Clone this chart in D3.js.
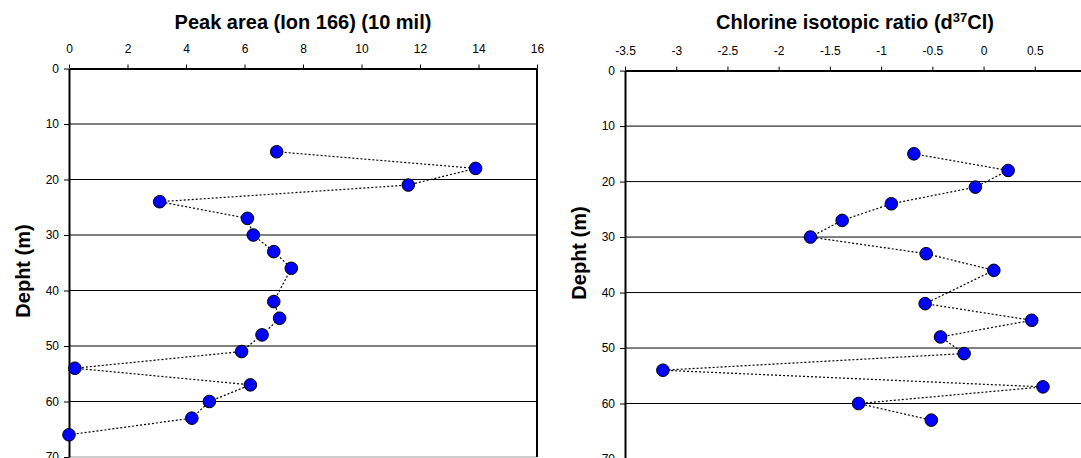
<!DOCTYPE html>
<html>
<head>
<meta charset="utf-8">
<script src="https://cdn.jsdelivr.net/npm/d3@7"></script>
<style>
  body { margin: 0; background: #fff; }
  text { font-family: "Liberation Sans", Arial, sans-serif; }
</style>
</head>
<body>
<div id="chart"></div>
<script>
// Datos
const depthLeft = [15, 18, 21, 24, 27, 30, 33, 36, 42, 45, 48, 51, 54, 57, 60, 63, 66];
const peakArea = [7.1, 13.9, 11.6, 3.1, 6.1, 6.3, 7.0, 7.6, 7.0, 7.2, 6.6, 5.9, 0.2, 6.2, 4.8, 4.2, 0.0];

const depthRight = [15, 18, 21, 24, 27, 30, 33, 36, 42, 45, 48, 51, 54, 57, 60, 63];
const chlorineRatio = [-0.68, 0.24, -0.08, -0.9, -1.38, -1.69, -0.56, 0.1, -0.57, 0.47, -0.42, -0.19, -3.13, 0.58, -1.22, -0.51];

const xTicksLeft = [0, 2, 4, 6, 8, 10, 12, 14, 16];
const xTicksRight = [-3.5, -3, -2.5, -2, -1.5, -1, -0.5, 0, 0.5];
const yTicks = [0, 10, 20, 30, 40, 50, 60, 70];

const width = 1081;
const height = 458;

const svg = d3.select('#chart')
  .append('svg')
  .attr('width', width)
  .attr('height', height);

function drawPanel(opts) {
  const x = d3.scaleLinear().domain(opts.xDomain).range([opts.left, opts.right]);
  const y = d3.scaleLinear().domain([0, 70]).range([opts.top, opts.bottom]);

  const g = svg.append('g');

  // Líneas horizontales
  g.selectAll('.grid')
    .data(yTicks.filter(d => d > 0))
    .enter()
    .append('line')
    .attr('x1', opts.left)
    .attr('x2', opts.right)
    .attr('y1', d => y(d))
    .attr('y2', d => y(d))
    .attr('stroke', d => d === 70 ? '#999' : '#000')
    .attr('stroke-width', 1);

  // Borde derecho
  g.append('line')
    .attr('x1', opts.right)
    .attr('x2', opts.right)
    .attr('y1', opts.top)
    .attr('y2', opts.bottom)
    .attr('stroke', '#000')
    .attr('stroke-width', 2);

  const xAxis = d3.axisTop(x)
    .tickValues(opts.xTicks)
    .tickFormat(d => String(d))
    .tickSize(4)
    .tickSizeOuter(0)
    .tickPadding(12);

  const yAxis = d3.axisLeft(y)
    .tickValues(yTicks)
    .tickSize(5)
    .tickSizeOuter(0)
    .tickPadding(5);

  const gx = g.append('g')
    .attr('transform', `translate(0, ${opts.top})`)
    .call(xAxis);
  const gy = g.append('g')
    .attr('transform', `translate(${opts.left}, 0)`)
    .call(yAxis);

  [gx, gy].forEach(a => {
    a.select('.domain').attr('stroke', '#000').attr('stroke-width', 2);
    a.selectAll('.tick line').attr('stroke', '#000');
    a.selectAll('.tick text')
      .attr('fill', '#000')
      .style('font-size', '12px')
      .style('font-family', '"Liberation Sans", Arial, sans-serif');
  });

  // Línea punteada
  const line = d3.line()
    .x(d => x(d[0]))
    .y(d => y(d[1]));

  const pts = opts.values.map((v, i) => [v, opts.depths[i]]);

  g.append('path')
    .datum(pts)
    .attr('d', line)
    .attr('fill', 'none')
    .attr('stroke', '#000')
    .attr('stroke-width', 1.2)
    .attr('stroke-dasharray', '2,2');

  g.selectAll('.punto')
    .data(pts)
    .enter()
    .append('circle')
    .attr('cx', d => x(d[0]))
    .attr('cy', d => y(d[1]))
    .attr('r', 6.3)
    .attr('fill', '#0000ff')
    .attr('stroke', '#000')
    .attr('stroke-width', 1);

  // Título
  const title = g.append('text')
    .attr('x', opts.titleX)
    .attr('y', 29)
    .attr('text-anchor', 'middle')
    .style('font-size', '20px')
    .style('font-weight', 'bold');
  opts.title.forEach(part => {
    const t = title.append('tspan').text(part.text);
    if (part.sup) {
      t.attr('dy', -7).style('font-size', '13px');
    } else if (part.after) {
      t.attr('dy', 7);
    }
  });

  // Etiqueta eje Y
  g.append('text')
    .attr('transform', `translate(${opts.labelX}, ${opts.labelY}) rotate(-90)`)
    .attr('text-anchor', 'middle')
    .style('font-size', '20px')
    .style('font-weight', 'bold')
    .text('Depht (m)');
}

drawPanel({
  xDomain: [0, 16], left: 69, right: 537, top: 68.5, bottom: 457,
  xTicks: xTicksLeft, values: peakArea, depths: depthLeft,
  title: [{ text: 'Peak area (Ion 166) (10 mil)' }],
  titleX: 303, labelX: 30, labelY: 271
});

drawPanel({
  xDomain: [-3.5, 1], left: 625, right: 1086, top: 70.6, bottom: 459,
  xTicks: xTicksRight, values: chlorineRatio, depths: depthRight,
  title: [{ text: 'Chlorine isotopic ratio (d' }, { text: '37', sup: true }, { text: 'Cl)', after: true }],
  titleX: 855, labelX: 586, labelY: 253
});
</script>
</body>
</html>
